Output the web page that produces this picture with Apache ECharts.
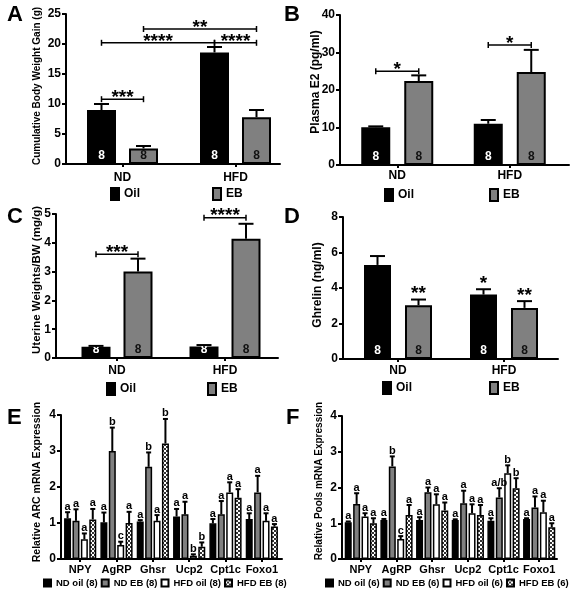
<!DOCTYPE html>
<html><head><meta charset="utf-8">
<script src="https://cdn.jsdelivr.net/npm/echarts@6/dist/echarts.min.js"></script>
<style>html,body{margin:0;padding:0;background:#fff}#c{width:579px;height:599px}</style>
</head><body><div id="c"></div>
<script>
// ---------- DATA ----------
const groupCats = ['ND', 'HFD'];
const groupSeries = ['Oil', 'EB'];
const sampleN = '8';
// Panel A: cumulative body weight gain (g)
const aOil = [9.0, 18.6],  aOilErr = [10.0, 19.5];
const aEB  = [2.6, 7.8],   aEBErr  = [3.0, 9.0];
const aBrackets = [[0,0,0,1,10.8,'***'],[0,0,1,0,20.2,'****'],[1,0,1,1,20.2,'****'],[0,1,1,1,22.5,'**']];
// Panel B: plasma E2 (pg/ml)
const bOil = [10.1, 11.0], bOilErr = [10.3, 12.0];
const bEB  = [22.4, 24.8], bEBErr  = [23.9, 30.7];
const bBrackets = [[0,0,0,1,25,'*'],[1,0,1,1,32,'*']];
// Panel C: uterine weights/BW (mg/g)
const cOil = [0.39, 0.40], cOilErr = [0.42, 0.45];
const cEB  = [3.0, 4.14],  cEBErr  = [3.45, 4.66];
const cBrackets = [[0,0,0,1,3.6,'***'],[1,0,1,1,4.87,'****']];
// Panel D: ghrelin (ng/ml)
const dOil = [5.3, 3.63],  dOilErr = [5.8, 3.93], dOilStars = ['', '*'];
const dEB  = [3.03, 2.88], dEBErr  = [3.35, 3.26], dEBStars = ['**', '**'];
// Panels E/F: genes
const genes = ['NPY', 'AgRP', 'Ghsr', 'Ucp2', 'Cpt1c', 'Foxo1'];
const eNames = ['ND oil (8)', 'ND EB (8)', 'HFD oil (8)', 'HFD EB (8)'];
const eNDoil  = [1.13, 1.02, 1.04, 1.18, 0.99, 1.11], eNDoilErr  = [1.30, 1.29, 1.08, 1.39, 1.11, 1.27], eNDoilLet  = ['a','a','a','a','a','a'];
const eNDEB   = [1.06, 3.00, 2.56, 1.24, 1.24, 1.85], eNDEBErr   = [1.38, 3.65, 2.96, 1.59, 1.61, 2.31], eNDEBLet   = ['a','b','b','a','a','a'];
const eHFDoil = [0.55, 0.39, 1.06, 0.09, 1.85, 1.06], eHFDoilErr = [0.71, 0.48, 1.22, 0.13, 2.13, 1.27], eHFDoilLet = ['a','c','a','b','a','a'];
const eHFDEB  = [1.10, 1.00, 3.21, 0.34, 1.70, 0.90], eHFDEBErr  = [1.39, 1.31, 3.89, 0.46, 1.94, 0.97], eHFDEBLet  = ['a','a','b','b','a','a'];
const fNames = ['ND oil (6)', 'ND EB (6)', 'HFD oil (6)', 'HFD EB (6)'];
const fNDoil  = [1.03, 1.09, 1.09, 1.09, 1.07, 1.12], fNDoilErr  = [1.05, 1.12, 1.17, 1.11, 1.14, 1.14], fNDoilLet  = ['a','a','a','a','a','a'];
const fNDEB   = [1.54, 2.59, 1.87, 1.56, 1.72, 1.44], fNDEBErr   = [1.84, 2.87, 2.00, 1.91, 1.98, 1.75], fNDEBLet   = ['a','b','a','a','a/b','a'];
const fHFDoil = [1.19, 0.56, 1.53, 1.28, 2.40, 1.31], fHFDoilErr = [1.28, 0.64, 1.81, 1.53, 2.62, 1.63], fHFDoilLet = ['a','c','a','a','b','a'];
const fHFDEB  = [1.00, 1.23, 1.36, 1.23, 1.98, 0.89], fHFDEBErr  = [1.14, 1.51, 1.58, 1.51, 2.26, 1.00], fHFDEBLet  = ['a','a','a','a','b','a'];

// ---------- STYLE ----------
const FONT = "'Liberation Sans', Arial, Helvetica, sans-serif";
function makeChecker() {
  const c = document.createElement('canvas'); c.width = 4; c.height = 4;
  const g = c.getContext('2d');
  g.fillStyle = '#fff'; g.fillRect(0, 0, 4, 4);
  g.fillStyle = '#333'; g.fillRect(0, 0, 2, 2); g.fillRect(2, 2, 2, 2);
  return c;
}
const checker = makeChecker();
const stBlack = bw => ({ color: '#000', borderColor: '#000', borderWidth: bw });
const stGray  = bw => ({ color: '#808080', borderColor: '#000', borderWidth: bw });
const stWhite = bw => ({ color: '#fff', borderColor: '#000', borderWidth: bw });
const stCheck = bw => ({ color: { image: checker, repeat: 'repeat' }, borderColor: '#000', borderWidth: bw });

const grids = [], xAxes = [], yAxes = [], series = [], legends = [], titles = [], graphics = [];

function addPanel(p) {
  const g0 = grids.length, h = p.y0 - p.top;
  grids.push({ left: p.axisX, top: p.top, width: p.axisEnd - p.axisX, height: h });
  grids.push({ left: p.bandL, top: p.top, width: p.bandR - p.bandL, height: h });
  const xi = xAxes.length, yi = yAxes.length;
  xAxes.push({ type: 'value', gridIndex: g0, min: 0, max: 1,
    axisLine: { show: true, onZero: false, lineStyle: { color: '#000', width: 2 } },
    axisTick: { show: false }, axisLabel: { show: false }, splitLine: { show: false } });
  xAxes.push({ type: 'category', gridIndex: g0 + 1, data: p.cats,
    axisLine: { show: false },
    axisTick: { show: true, alignWithLabel: true, length: 3, lineStyle: { color: '#000', width: 2 } },
    axisLabel: { interval: 0, margin: p.catMargin, color: '#000', fontFamily: FONT, fontWeight: 'bold', fontSize: p.catFont },
    splitLine: { show: false } });
  yAxes.push({ type: 'value', gridIndex: g0, min: 0, max: p.max, interval: p.interval,
    axisLine: { show: true, lineStyle: { color: '#000', width: 2 } },
    axisTick: { show: true, length: 4, lineStyle: { color: '#000', width: 2 } },
    axisLabel: { margin: 5, color: '#000', fontFamily: FONT, fontWeight: 'bold', fontSize: 12 },
    splitLine: { show: false } });
  yAxes.push({ type: 'value', gridIndex: g0 + 1, min: 0, max: p.max, show: false, splitLine: { show: false } });
  // y-axis title (rotated text)
  graphics.push({ type: 'text', x: p.namePos[0], y: p.namePos[1], rotation: Math.PI / 2, silent: true,
    style: { text: p.yName, fill: '#000', font: 'bold ' + p.nameFont + 'px ' + FONT, textAlign: 'center', textVerticalAlign: 'middle' } });

  const n = p.series.length, w = p.barW, gap = p.gapPx;
  const off = i => -(n * w + (n - 1) * gap) / 2 + w / 2 + i * (w + gap);
  p.series.forEach((s, i) => {
    series.push({ type: 'bar', name: s.name, xAxisIndex: xi + 1, yAxisIndex: yi + 1,
      data: s.values, barWidth: w, barGap: (gap / w * 100) + '%', itemStyle: s.style, z: 2,
      label: s.nColor ? { show: true, position: 'insideBottom', distance: 2, formatter: () => sampleN,
        color: s.nColor, fontFamily: FONT, fontWeight: 'bold', fontSize: 12 } : { show: false } });
    const texts = s.texts;
    series.push({ type: 'custom', name: 'err' + g0 + '_' + i, xAxisIndex: xi + 1, yAxisIndex: yi + 1, z: 5, clip: false,
      data: s.values.map((v, k) => [k, v, s.err[k]]),
      renderItem: (params, api) => {
        const pv = api.coord([api.value(0), api.value(1)]);
        const pe = api.coord([api.value(0), api.value(2)]);
        const x = pv[0] + off(i), cap = p.cap;
        const ch = [
          { type: 'line', shape: { x1: x, y1: pv[1], x2: x, y2: pe[1] }, style: { stroke: '#000', lineWidth: p.errW } },
          { type: 'line', shape: { x1: x - cap / 2, y1: pe[1], x2: x + cap / 2, y2: pe[1] }, style: { stroke: '#000', lineWidth: p.errW } }
        ];
        const t = texts && texts[params.dataIndex];
        if (t) ch.push({ type: 'text', x: x, y: pe[1] - p.textOff,
          style: { text: t, fill: '#000', font: 'bold ' + p.textFont + 'px ' + FONT, textAlign: 'center', textVerticalAlign: 'bottom' } });
        return { type: 'group', children: ch };
      } });
  });
  if (p.brackets) {
    const br = p.brackets;
    series.push({ type: 'custom', name: 'br' + g0, xAxisIndex: xi + 1, yAxisIndex: yi + 1, z: 6, clip: false,
      data: br.map(b => [b[0], b[1], b[2], b[3], b[4]]),
      renderItem: (params, api) => {
        const b = br[params.dataIndex];
        const p1 = api.coord([b[0], b[4]]), p2 = api.coord([b[2], b[4]]);
        const x1 = p1[0] + off(b[1]), x2 = p2[0] + off(b[3]), y = p1[1];
        const ls = { stroke: '#000', lineWidth: 1.5 };
        return { type: 'group', children: [
          { type: 'line', shape: { x1: x1, y1: y, x2: x2, y2: y }, style: ls },
          { type: 'line', shape: { x1: x1, y1: y - 3, x2: x1, y2: y + 3 }, style: ls },
          { type: 'line', shape: { x1: x2, y1: y - 3, x2: x2, y2: y + 3 }, style: ls },
          { type: 'text', x: (x1 + x2) / 2, y: y + 8, style: { text: b[5], fill: '#000', font: 'bold 19px ' + FONT, textAlign: 'center', textVerticalAlign: 'bottom' } }
        ] };
      } });
  }
  legends.push(Object.assign({ padding: 0, orient: 'horizontal', selectedMode: false, icon: 'rect',
    textStyle: { color: '#000', fontFamily: FONT, fontWeight: 'bold', fontSize: p.legFont } }, p.legend));
  titles.push({ text: p.letter, left: p.letterPos[0], top: p.letterPos[1], padding: 0,
    textStyle: { color: '#000', fontFamily: FONT, fontWeight: 'bold', fontSize: 22 } });
}

function adSeries(oil, oilErr, eb, ebErr, oilTxt, ebTxt) {
  return [
    { name: groupSeries[0], values: oil, err: oilErr, style: stBlack(2), nColor: '#fff', texts: oilTxt },
    { name: groupSeries[1], values: eb, err: ebErr, style: stGray(2), nColor: '#111', texts: ebTxt }
  ];
}
const adCommon = { cats: groupCats, catFont: 12, interval: null, cap: 15, errW: 2, textOff: -4, textFont: 19, legFont: 12 };

addPanel(Object.assign({}, adCommon, { letter: 'A', letterPos: [7, 4],
  axisX: 66, axisEnd: 280, bandL: 66, bandR: 292, top: 14, y0: 164, max: 25, interval: 5,
  yName: 'Cumulative Body Weight Gain (g)', namePos: [37, 86], nameFont: 10, catMargin: 8,
  barW: 29, gapPx: 13, series: adSeries(aOil, aOilErr, aEB, aEBErr), brackets: aBrackets,
  legend: { data: groupSeries, left: 110, top: 187, itemWidth: 8, itemHeight: 12, itemGap: 72 } }));
addPanel(Object.assign({}, adCommon, { letter: 'B', letterPos: [284, 4],
  axisX: 340, axisEnd: 569, bandL: 341, bandR: 566, top: 15, y0: 165, max: 40, interval: 10,
  yName: 'Plasma E2 (pg/ml)', namePos: [316, 82], nameFont: 12, catMargin: 5,
  barW: 29, gapPx: 14, series: adSeries(bOil, bOilErr, bEB, bEBErr), brackets: bBrackets,
  legend: { data: groupSeries, left: 384, top: 188, itemWidth: 8, itemHeight: 12, itemGap: 75 } }));
addPanel(Object.assign({}, adCommon, { letter: 'C', letterPos: [7, 206],
  axisX: 56, axisEnd: 278, bandL: 63, bandR: 279, top: 214, y0: 358, max: 5, interval: 1,
  yName: 'Uterine Weights/BW (mg/g)', namePos: [37, 280], nameFont: 11.5, catMargin: 7,
  barW: 29, gapPx: 13, series: adSeries(cOil, cOilErr, cEB, cEBErr), brackets: cBrackets,
  legend: { data: groupSeries, left: 106, top: 382, itemWidth: 8, itemHeight: 12, itemGap: 71 } }));
addPanel(Object.assign({}, adCommon, { letter: 'D', letterPos: [284, 206],
  axisX: 343, axisEnd: 558, bandL: 345, bandR: 557, top: 217, y0: 359, max: 8, interval: 2,
  yName: 'Ghrelin (ng/ml)', namePos: [318, 285], nameFont: 12, catMargin: 6,
  barW: 27, gapPx: 14, series: adSeries(dOil, dOilErr, dEB, dEBErr, dOilStars, dEBStars),
  legend: { data: groupSeries, left: 382, top: 381, itemWidth: 8, itemHeight: 12, itemGap: 77 } }));

const efCommon = { cats: genes, catFont: 11, cap: 5, errW: 2, textOff: 0, textFont: 11, legFont: 9.5,
  max: 4, interval: 1, catMargin: 5, barW: 7, gapPx: 1.4 };
function efSeries(names, s) {
  const styles = [stBlack(1.5), stGray(1.5), stWhite(1.5), stCheck(1.5)];
  return s.map((d, i) => ({ name: names[i], values: d[0], err: d[1], texts: d[2], style: styles[i] }));
}
addPanel(Object.assign({}, efCommon, { letter: 'E', letterPos: [7, 407],
  axisX: 61, axisEnd: 282, bandL: 62, bandR: 280, top: 415, y0: 559,
  yName: 'Relative ARC mRNA Expression', namePos: [37, 482], nameFont: 10.5,
  series: efSeries(eNames, [[eNDoil, eNDoilErr, eNDoilLet], [eNDEB, eNDEBErr, eNDEBLet], [eHFDoil, eHFDoilErr, eHFDoilLet], [eHFDEB, eHFDEBErr, eHFDEBLet]]),
  legend: { data: eNames, left: 43, top: 578, itemWidth: 7, itemHeight: 7, itemGap: 3 } }));
addPanel(Object.assign({}, efCommon, { letter: 'F', letterPos: [286, 407],
  axisX: 342, axisEnd: 557, bandL: 343, bandR: 557, top: 416, y0: 559,
  yName: 'Relative Pools mRNA Expression', namePos: [319, 481], nameFont: 10,
  series: efSeries(fNames, [[fNDoil, fNDoilErr, fNDoilLet], [fNDEB, fNDEBErr, fNDEBLet], [fHFDoil, fHFDoilErr, fHFDoilLet], [fHFDEB, fHFDEBErr, fHFDEBLet]]),
  legend: { data: fNames, left: 325, top: 578, itemWidth: 7, itemHeight: 7, itemGap: 3 } }));

const chart = echarts.init(document.getElementById('c'), null, { renderer: 'canvas' });
chart.setOption({ animation: false, backgroundColor: '#fff', title: titles, grid: grids,
  xAxis: xAxes, yAxis: yAxes, series: series, legend: legends, graphic: graphics, tooltip: { show: false } });
</script></body></html>
